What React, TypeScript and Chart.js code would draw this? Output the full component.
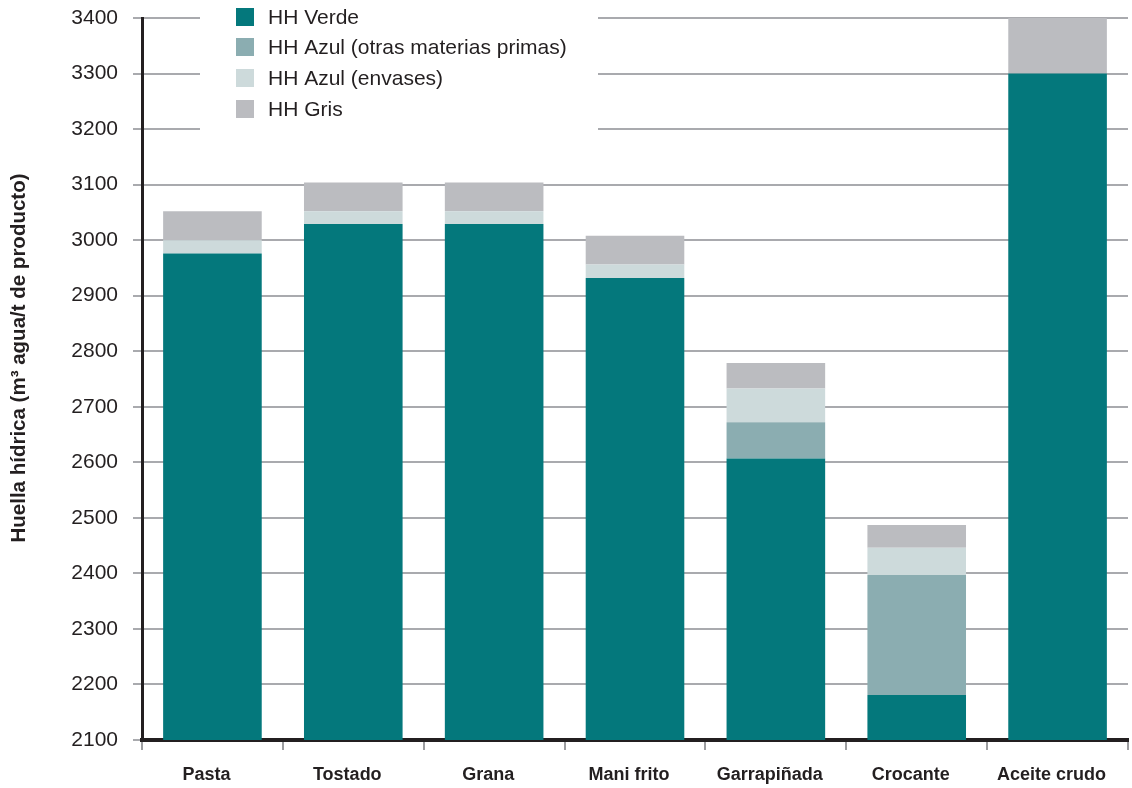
import React, { useEffect, useRef } from "react";
import { Chart, registerables } from "chart.js";

Chart.register(...registerables);

const categories = ["Pasta", "Tostado", "Grana", "Mani frito", "Garrapiñada", "Crocante", "Aceite crudo"];
const hhVerde = [2976, 3029, 3029, 2932, 2607, 2181, 3300];
const hhAzulOtras = [0, 0, 0, 0, 65, 216, 0];
const hhAzulEnvases = [24, 23, 23, 24, 61, 49, 0];
const hhGris = [52, 52, 52, 52, 46, 41, 100];
const yTicks = [2100, 2200, 2300, 2400, 2500, 2600, 2700, 2800, 2900, 3000, 3100, 3200, 3300, 3400];

const seriesNames = ["HH Verde", "HH Azul (otras materias primas)", "HH Azul (envases)", "HH Gris"];
const seriesColors = ["#04787c", "#8badb1", "#cddadb", "#bbbcc0"];
const yTitle = "Huella hídrica (m³ agua/t de producto)";

const FONT = "'Liberation Sans', Arial, Helvetica, sans-serif";

// Legend box sitting over the upper gridlines, plus the rotated y-axis title.
const overlayPlugin = {
  id: "overlay",
  afterDraw(chart: any) {
    const ctx = chart.ctx;
    ctx.save();
    ctx.fillStyle = "#ffffff";
    ctx.fillRect(200, 0, 398, 140);
    const rows = [17, 47, 78, 109];
    ctx.font = `21px ${FONT}`;
    ctx.textBaseline = "middle";
    ctx.textAlign = "left";
    seriesNames.forEach((name, i) => {
      ctx.fillStyle = seriesColors[i];
      ctx.fillRect(236, rows[i] - 9, 18, 18);
      ctx.fillStyle = "#231f20";
      ctx.fillText(name, 268, rows[i] + 1);
    });
    ctx.translate(19, 358);
    ctx.rotate(-Math.PI / 2);
    ctx.font = `bold 20.5px ${FONT}`;
    ctx.textAlign = "center";
    ctx.textBaseline = "middle";
    ctx.fillStyle = "#231f20";
    ctx.fillText(yTitle, 0, 0);
    ctx.restore();
  },
};

export default function App() {
  const ref = useRef<HTMLCanvasElement | null>(null);

  useEffect(() => {
    if (!ref.current) return;
    const data = [hhVerde, hhAzulOtras, hhAzulEnvases, hhGris];
    const chart = new Chart(ref.current, {
      type: "bar",
      data: {
        labels: categories,
        datasets: data.map((values, i) => ({
          label: seriesNames[i],
          data: values,
          backgroundColor: seriesColors[i],
          borderWidth: 0,
          barPercentage: 0.7,
          categoryPercentage: 1,
        })),
      },
      options: {
        responsive: false,
        animation: false,
        layout: { padding: { left: 0, top: 18, right: 4, bottom: 0 } },
        plugins: { legend: { display: false }, tooltip: { enabled: false } },
        scales: {
          x: {
            stacked: true,
            afterFit: (s: any) => {
              s.height = 48;
              s.paddingLeft = 0;
              s.paddingRight = 0;
            },
            border: { color: "#231f20", width: 4 },
            grid: {
              drawOnChartArea: false,
              drawTicks: true,
              tickLength: 10,
              color: "#9c9da0",
              lineWidth: 2,
              offset: true,
            },
            ticks: {
              color: "#231f20",
              font: { family: FONT, size: 18, weight: "bold" },
              padding: 14,
              labelOffset: -6,
            },
          },
          y: {
            stacked: true,
            min: 2100,
            max: 3400,
            afterFit: (s: any) => {
              s.width = 142;
              s.paddingTop = 0;
              s.paddingBottom = 0;
            },
            afterBuildTicks: (s: any) => {
              s.ticks = yTicks.map((v) => ({ value: v }));
            },
            border: { color: "#231f20", width: 3 },
            grid: {
              color: "#a9aaae",
              lineWidth: 2,
              drawTicks: true,
              tickLength: 9,
            },
            ticks: {
              color: "#231f20",
              font: { family: FONT, size: 21 },
              padding: 15,
              callback: (v: any) => String(v),
            },
          },
        },
      },
      plugins: [overlayPlugin],
    });
    return () => chart.destroy();
  }, []);

  return (
    <div style={{ position: "absolute", left: 0, top: 0, width: 1132, height: 788, background: "#fff" }}>
      <canvas ref={ref} width={1132} height={788} style={{ display: "block" }} />
    </div>
  );
}
